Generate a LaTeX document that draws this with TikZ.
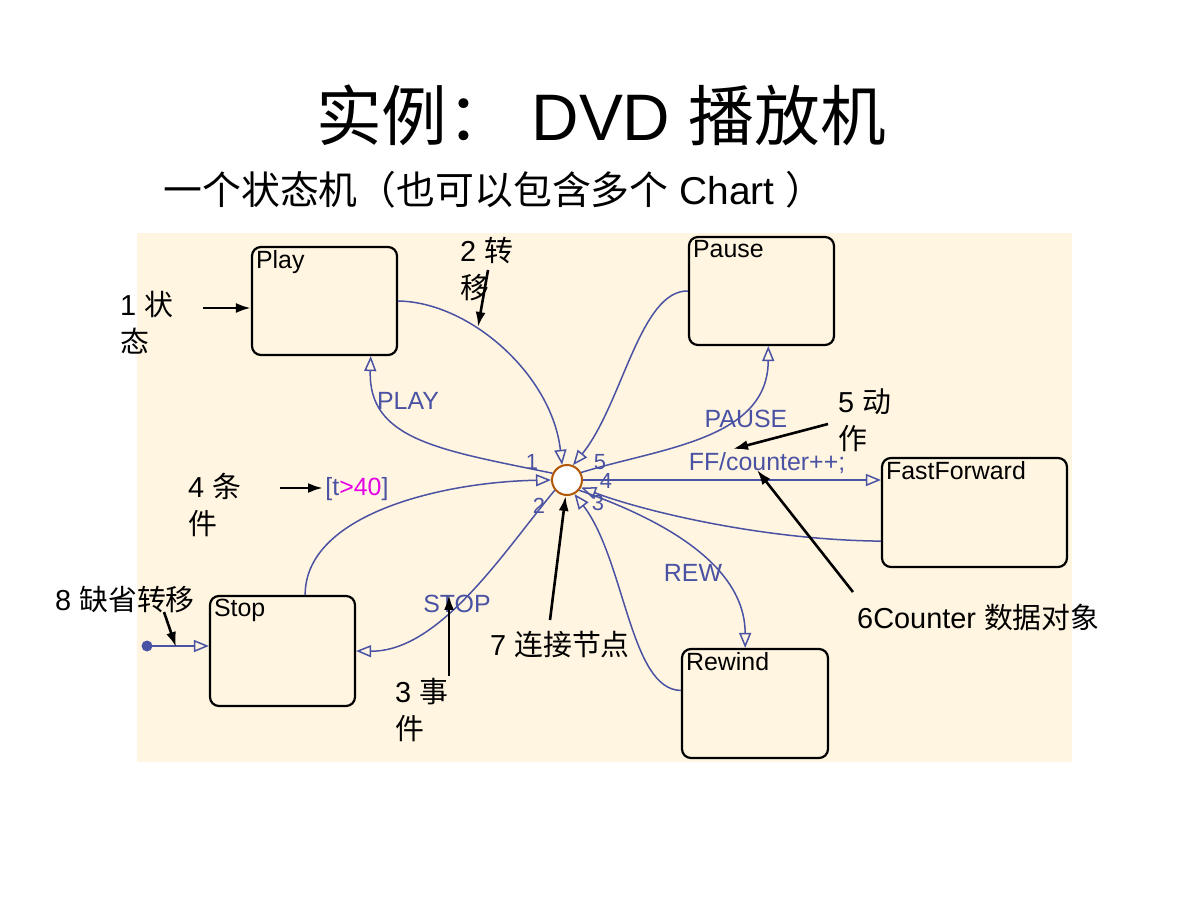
\documentclass[tikz,border=0pt]{standalone}
\usepackage{fontspec}
\setmainfont{Liberation Sans}
\newfontfamily\cjk{Noto Sans CJK SC}
\usepackage{tikz}
\usetikzlibrary{arrows.meta}
\definecolor{panel}{RGB}{255,245,224}
\definecolor{trblue}{RGB}{74,82,164}
\definecolor{cond}{RGB}{230,0,230}
\definecolor{conn}{RGB}{176,88,8}
\newcommand{\zh}[1]{{\cjk #1}}

\begin{document}
\begin{tikzpicture}[x=1bp,y=-1bp,
  state/.style={draw,line width=2.2bp,rounded corners=9bp,minimum width=145bp,minimum height=108bp,inner sep=0pt},
  sname/.style={font=\fontsize{25}{25}\selectfont,anchor=north west,inner xsep=5bp,inner ysep=4bp},
  trans/.style={draw=trblue,line width=1.5bp,-{Triangle[open,length=15bp,width=12bp]}},
  tlabel/.style={text=trblue,font=\fontsize{25}{25}\selectfont,inner sep=0pt},
  num/.style={text=trblue,font=\fontsize{22}{22}\selectfont,inner sep=0pt},
  note/.style={line width=2.6bp,-{Latex[length=15bp,width=10bp]}},
  ann/.style={font=\fontsize{29}{37}\selectfont,align=left,anchor=north west,inner sep=0pt}]

\useasboundingbox (0,0) rectangle (1200,900);
\fill[panel] (137,233) rectangle (1072,762);

\node[anchor=base,font=\fontsize{66}{66}\selectfont] (title) at (601,140) {\zh{实例：} DVD \zh{播放机}};
\node[anchor=base west,font=\fontsize{39}{39}\selectfont] (sub) at (160,204) {\zh{一个状态机（也可以包含多个} Chart \zh{）}};

\node[state,label={[sname]north west:Play}] (play) at (324.5,301) {};
\node[state,label={[sname]north west:Pause}] (pause) at (761.5,291) {};
\node[state,minimum width=185bp,minimum height=109bp,label={[sname]north west:FastForward}] (ff) at (974.5,512.5) {};
\node[state,minimum height=110bp,label={[sname]north west:Stop}] (stop) at (282.5,651) {};
\node[state,minimum width=146bp,minimum height=109bp,label={[sname]north west:Rewind}] (rewind) at (755,703.5) {};
\node[circle,draw=conn,fill=white,line width=2bp,minimum size=30bp,inner sep=0pt] (j) at (567,480) {};

\draw[trans] (play.east) .. controls (470,302) and (552,375) .. (j.108);
\draw[trans] (pause.west) .. controls (640,290) and (622,405) .. (j.68);
\draw[trans] (j.155) .. controls (440,450) and (368,440) .. (play.-50);
\draw[trans] (j.28) .. controls (660,448) and (768,440) .. (pause.-83);
\draw[trans] (j.east) -- (j.east -| ff.west);
\draw[trans] (ff.197) .. controls (760,540) and (640,510) .. (j.-28);
\draw[trans] (j.-40) .. controls (650,515) and (745,560) .. (rewind.100);
\draw[trans] (rewind.170) .. controls (630,690) and (625,560) .. (j.-62);
\draw[trans] (stop.68) .. controls (305,515) and (440,482) .. (j.west);
\draw[trans] (j.-140) .. controls (505,550) and (440,652) .. (stop.east);
\coordinate (init) at (147,646);
\fill[trblue] (init) circle (5.5);
\draw[trans] (init) -- (init -| stop.west);

\node[tlabel] (lplay) at (408,401) {PLAY};
\node[tlabel] (lpause) at (746,419) {PAUSE};
\node[tlabel] (lff) at (767,463) {FF/counter++;};
\node[tlabel] (lrew) at (693,573) {REW};
\node[tlabel] (lstop) at (457,604) {STOP};
\node[tlabel] (lcond) at (357,489) {[t\textcolor{cond}{>40}]};
\node[num] (n1) at (532,462) {1};
\node[num] (n5) at (600,462) {5};
\node[num] (n4) at (606,481) {4};
\node[num] (n2) at (539,506) {2};
\node[num] (n3) at (598,503) {3};

\node[ann] (a1) at (120,291) {1 \zh{状}\\\zh{态}};
\node[ann] (a2) at (460,237) {2 \zh{转}\\\zh{移}};
\node[ann] (a5) at (838,389) {5 \zh{动}\\\zh{作}};
\node[ann] (a4) at (188,473) {4 \zh{条}\\\zh{件}};
\node[ann] (a8) at (55,586) {8 \zh{缺省转移}};
\node[ann] (a3) at (395,678) {3 \zh{事}\\\zh{件}};
\node[ann] (a7) at (490,631) {7 \zh{连接节点}};
\node[ann] (a6) at (857,604) {6Counter \zh{数据对象}};

\coordinate (t1) at (203,308);
\draw[note] (t1) -- (t1 -| play.west);
\coordinate (t2) at (488,270);
\coordinate (h2) at (478,327);
\draw[note] (t2) -- (h2);
\coordinate (t5) at (828,424);
\coordinate (h5) at (733,449);
\draw[note] (t5) -- (h5);
\coordinate (t4) at (280,488);
\draw[note] (t4) -- (323,488);
\coordinate (t8) at (164,612);
\coordinate (h8) at (176,647);
\draw[note] (t8) -- (h8);
\coordinate (t3) at (449,676);
\draw[note] (t3) -- (t3 |- lstop.north);
\coordinate (t7) at (550,620);
\draw[note] (t7) -- (j.-95);
\coordinate (t6) at (853,592);
\coordinate (h6) at (757,470);
\draw[note] (t6) -- (h6);
\end{tikzpicture}
\end{document}
